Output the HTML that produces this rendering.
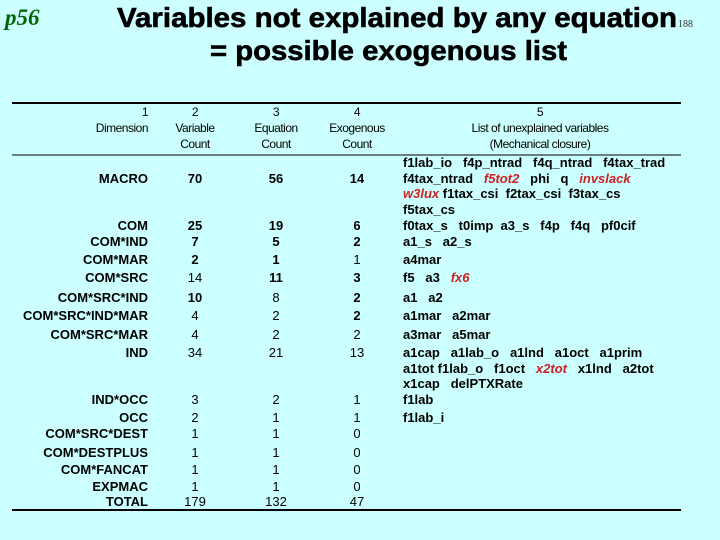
<!DOCTYPE html>
<html><head><style>
html,body{margin:0;padding:0;background:#ccffff;}
svg{display:block;}
.pre text{white-space:pre;}
</style></head><body>
<svg width="720" height="540" xmlns="http://www.w3.org/2000/svg" font-family="Liberation Sans, Arial, sans-serif">
<rect width="720" height="540" fill="#ccffff"/>
<text x="5" y="25" font-family="Liberation Serif, serif" font-style="italic" font-weight="bold" font-size="23" fill="#006600">p56</text>
<text x="117" y="27" font-weight="bold" font-size="28" fill="#000" textLength="560" lengthAdjust="spacingAndGlyphs" stroke="#000" stroke-width="0.6">Variables not explained by any equation</text>
<text x="678" y="27" font-family="Liberation Serif, serif" font-size="10" fill="#333">188</text>
<text x="210" y="60" font-weight="bold" font-size="28" fill="#000" textLength="357" lengthAdjust="spacingAndGlyphs" stroke="#000" stroke-width="0.6">= possible exogenous list</text>
<line x1="12" y1="103" x2="681" y2="103" stroke="#000" stroke-width="2"/>
<line x1="12" y1="155" x2="681" y2="155" stroke="#000" stroke-width="1"/>
<line x1="12" y1="510" x2="681" y2="510" stroke="#000" stroke-width="2"/>
<g font-size="12" fill="#000" letter-spacing="-0.5">
<text x="148" y="116" text-anchor="end">1</text>
<text x="148" y="132" text-anchor="end">Dimension</text>
<text x="195" y="116" text-anchor="middle">2</text>
<text x="195" y="132" text-anchor="middle">Variable</text>
<text x="195" y="148" text-anchor="middle">Count</text>
<text x="276" y="116" text-anchor="middle">3</text>
<text x="276" y="132" text-anchor="middle">Equation</text>
<text x="276" y="148" text-anchor="middle">Count</text>
<text x="357" y="116" text-anchor="middle">4</text>
<text x="357" y="132" text-anchor="middle">Exogenous</text>
<text x="357" y="148" text-anchor="middle">Count</text>
<text x="540" y="116" text-anchor="middle">5</text>
<text x="540" y="132" text-anchor="middle">List of unexplained variables</text>
<text x="540" y="148" text-anchor="middle">(Mechanical closure)</text>
</g>
<g font-size="13" font-weight="bold" fill="#000">
<g text-anchor="end">
<text x="148" y="183">MACRO</text>
<text x="148" y="230">COM</text>
<text x="148" y="246">COM*IND</text>
<text x="148" y="264">COM*MAR</text>
<text x="148" y="282">COM*SRC</text>
<text x="148" y="302">COM*SRC*IND</text>
<text x="148" y="320">COM*SRC*IND*MAR</text>
<text x="148" y="339">COM*SRC*MAR</text>
<text x="148" y="357">IND</text>
<text x="148" y="404">IND*OCC</text>
<text x="148" y="422">OCC</text>
<text x="148" y="438">COM*SRC*DEST</text>
<text x="148" y="457">COM*DESTPLUS</text>
<text x="148" y="474">COM*FANCAT</text>
<text x="148" y="491">EXPMAC</text>
<text x="148" y="506">TOTAL</text>
</g>
<g text-anchor="middle">
<text x="195" y="183">70</text><text x="276" y="183">56</text><text x="357" y="183">14</text>
<text x="195" y="230">25</text><text x="276" y="230">19</text><text x="357" y="230">6</text>
<text x="195" y="246">7</text><text x="276" y="246">5</text><text x="357" y="246">2</text>
<text x="195" y="264">2</text><text x="276" y="264">1</text><text x="357" y="264" font-weight="normal">1</text>
<text x="195" y="282" font-weight="normal">14</text><text x="276" y="282">11</text><text x="357" y="282">3</text>
<text x="195" y="302">10</text><text x="276" y="302" font-weight="normal">8</text><text x="357" y="302">2</text>
<text x="195" y="320" font-weight="normal">4</text><text x="276" y="320" font-weight="normal">2</text><text x="357" y="320">2</text>
<text x="195" y="339" font-weight="normal">4</text><text x="276" y="339" font-weight="normal">2</text><text x="357" y="339" font-weight="normal">2</text>
<text x="195" y="357" font-weight="normal">34</text><text x="276" y="357" font-weight="normal">21</text><text x="357" y="357" font-weight="normal">13</text>
<g font-weight="normal">
<text x="195" y="404">3</text><text x="276" y="404">2</text><text x="357" y="404">1</text>
<text x="195" y="422">2</text><text x="276" y="422">1</text><text x="357" y="422">1</text>
<text x="195" y="438">1</text><text x="276" y="438">1</text><text x="357" y="438">0</text>
<text x="195" y="457">1</text><text x="276" y="457">1</text><text x="357" y="457">0</text>
<text x="195" y="474">1</text><text x="276" y="474">1</text><text x="357" y="474">0</text>
<text x="195" y="491">1</text><text x="276" y="491">1</text><text x="357" y="491">0</text>
<text x="195" y="506">179</text><text x="276" y="506">132</text><text x="357" y="506">47</text>
</g>
</g>
<g class="pre">
<text x="403" y="167">f1lab_io   f4p_ntrad   f4q_ntrad   f4tax_trad</text>
<text x="403" y="183">f4tax_ntrad   <tspan fill="#cc2222" font-style="italic">f5tot2</tspan>   phi   q   <tspan fill="#cc2222" font-style="italic">invslack</tspan></text>
<text x="403" y="198"><tspan fill="#cc2222" font-style="italic">w3lux</tspan> f1tax_csi  f2tax_csi  f3tax_cs</text>
<text x="403" y="214">f5tax_cs</text>
<text x="403" y="230">f0tax_s   t0imp  a3_s   f4p   f4q   pf0cif</text>
<text x="403" y="246">a1_s   a2_s</text>
<text x="403" y="264">a4mar</text>
<text x="403" y="282">f5   a3   <tspan fill="#cc2222" font-style="italic">fx6</tspan></text>
<text x="403" y="302">a1   a2</text>
<text x="403" y="320">a1mar   a2mar</text>
<text x="403" y="339">a3mar   a5mar</text>
<text x="403" y="357">a1cap   a1lab_o   a1lnd   a1oct   a1prim</text>
<text x="403" y="373">a1tot f1lab_o   f1oct   <tspan fill="#cc2222" font-style="italic">x2tot</tspan>   x1lnd   a2tot</text>
<text x="403" y="388">x1cap   delPTXRate</text>
<text x="403" y="404">f1lab</text>
<text x="403" y="422">f1lab_i</text>
</g>
</g>
</svg>
</body></html>
